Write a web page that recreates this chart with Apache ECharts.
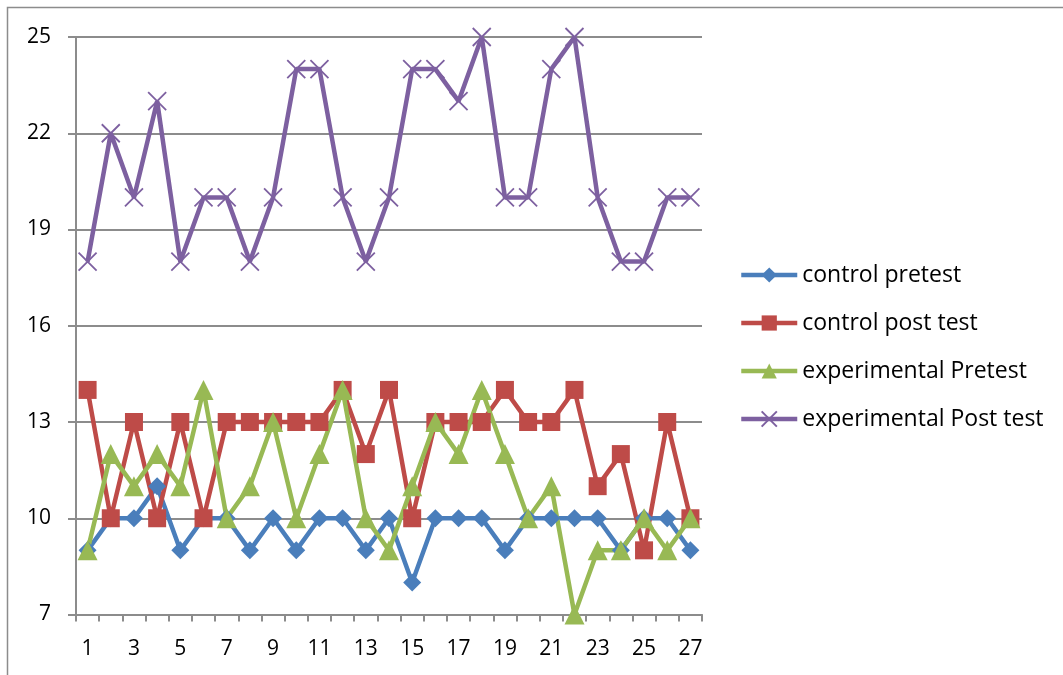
<!DOCTYPE html>
<html><head><meta charset="utf-8">
<script src="https://cdn.jsdelivr.net/npm/echarts@6/dist/echarts.min.js"></script>
<style>html,body{margin:0;padding:0;background:#fff}#c{width:1063px;height:675px}</style>
</head><body><div id="c"></div>
<script>
const categories = ['1','2','3','4','5','6','7','8','9','10','11','12','13','14','15','16','17','18','19','20','21','22','23','24','25','26','27'];
const controlPretest = [9,10,10,11,9,10,10,9,10,9,10,10,9,10,8,10,10,10,9,10,10,10,10,9,10,10,9];
const controlPostTest = [14,10,13,10,13,10,13,13,13,13,13,14,12,14,10,13,13,13,14,13,13,14,11,12,9,13,10];
const experimentalPretest = [9,12,11,12,11,14,10,11,13,10,12,14,10,9,11,13,12,14,12,10,11,7,9,9,10,9,10];
const experimentalPostTest = [18,22,20,23,18,20,20,18,20,24,24,20,18,20,24,24,23,25,20,20,24,25,20,18,18,20,20];
const yTicks = {min: 7, max: 25, interval: 3};

const font = '"Open Sans", sans-serif';
const chart = echarts.init(document.getElementById('c'));
function mk(name, data, color, symbol, size, extra) {
  const s = {
    name, type: 'line', data, symbol, symbolSize: size, showAllSymbol: true,
    lineStyle: {color, width: 4.5},
    itemStyle: {color},
    emphasis: {disabled: true},
    animation: false
  };
  return Object.assign(s, extra || {});
}
chart.setOption({
  animation: false,
  textStyle: {fontFamily: font},
  graphic: [{type: 'rect', shape: {x: 7.5, y: 7.5, width: 1200, height: 800},
    style: {fill: 'none', stroke: '#8c8c8c', lineWidth: 1.5}, silent: true, z: -10}],
  grid: {left: 76, right: 361, top: 37, bottom: 60.5, containLabel: false},
  legend: {
    orient: 'vertical', left: 734, top: 258, itemWidth: 56, itemHeight: 19, itemGap: 24,
    lineStyle: {width: 4.5},
    textStyle: {fontSize: 23, lineHeight: 24, color: '#000', fontFamily: font},
    data: ['control pretest','control post test','experimental Pretest','experimental Post test']
  },
  xAxis: {
    type: 'category', data: categories, boundaryGap: true,
    axisLine: {lineStyle: {color: '#8c8c8c', width: 2}},
    axisTick: {show: true, length: 7, lineStyle: {color: '#8c8c8c', width: 2}, interval: 0},
    axisLabel: {interval: 1, fontSize: 21, color: '#000', margin: 24, fontFamily: font},
    splitLine: {show: false}
  },
  yAxis: {
    type: 'value', min: yTicks.min, max: yTicks.max, interval: yTicks.interval,
    axisLine: {show: true, lineStyle: {color: '#8c8c8c', width: 2}},
    axisTick: {show: true, length: 8, lineStyle: {color: '#8c8c8c', width: 2}},
    axisLabel: {fontSize: 21, color: '#000', margin: 25, fontFamily: font},
    splitLine: {show: true, lineStyle: {color: '#8c8c8c', width: 2}}
  },
  series: [
    mk('control pretest', controlPretest, '#4A7EBB', 'diamond', 18),
    mk('control post test', controlPostTest, '#BE4B48', 'rect', 18),
    mk('experimental Pretest', experimentalPretest, '#98B954', 'triangle', 20),
    mk('experimental Post test', experimentalPostTest, '#7D60A0', 'path://M0,0L10,10M10,0L0,10', 18,
      {itemStyle: {color: 'none', borderColor: '#7D60A0', borderWidth: 1.8}})
  ]
});
</script></body></html>
